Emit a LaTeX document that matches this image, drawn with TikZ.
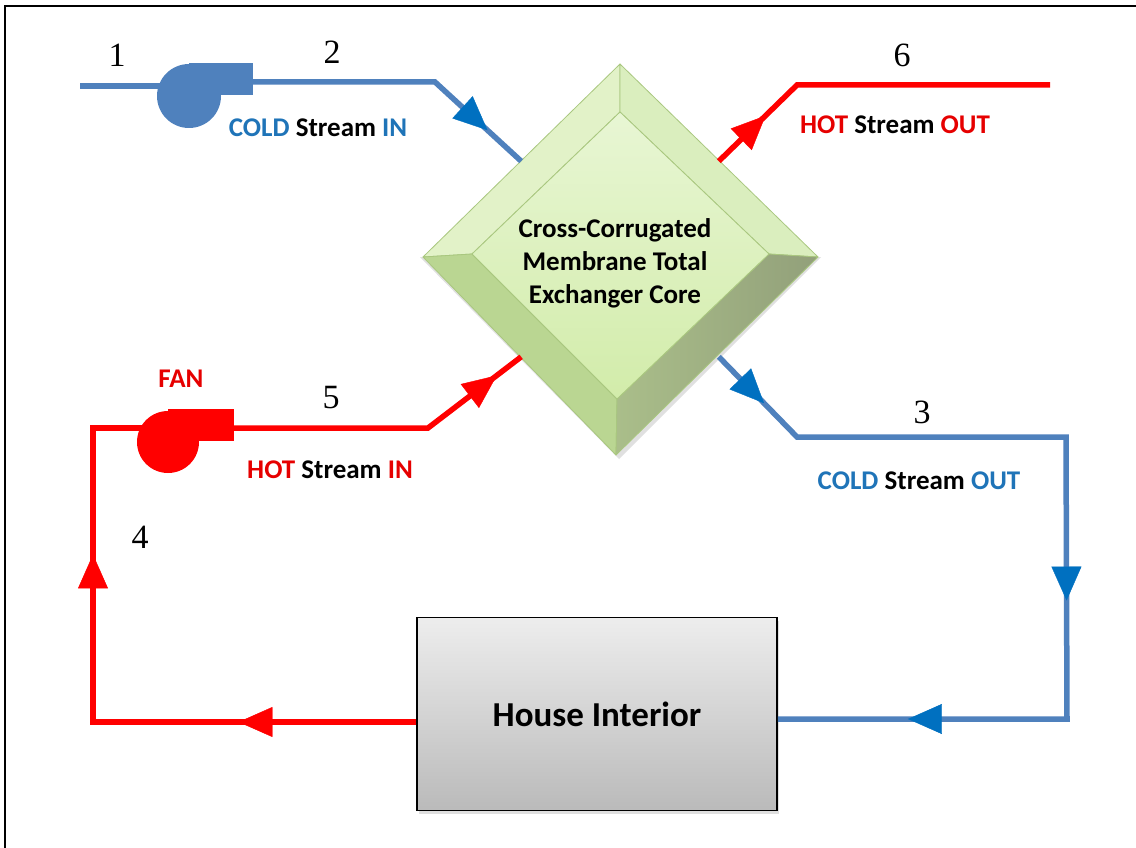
\documentclass[tikz,border=0pt]{standalone}
\usepackage{fontspec}
\newfontfamily\calib{Carlito}
\newfontfamily\numfont{Liberation Serif}
\usetikzlibrary{arrows.meta,decorations.markings,shapes.geometric,shadows}

\definecolor{coldline}{HTML}{4F81BD}
\definecolor{coldhead}{HTML}{0070C0}
\definecolor{coldtext}{HTML}{1F74B8}
\definecolor{hotline}{HTML}{FF0000}
\definecolor{hottext}{HTML}{E60000}
\definecolor{coreedge}{HTML}{A9C77F}

\tikzset{
  pipe/.style={line width=5.5pt, line join=miter},
  cold/.style={pipe, draw=coldline},
  hot/.style={pipe, draw=hotline},
  tipmark/.style 2 args={decorate, decoration={markings,
      mark=at position #1 with {\arrow{Triangle[length=34pt,width=30pt,color=#2]}}}},
  label/.style={font=\calib\bfseries\fontsize{27pt}{31pt}\selectfont, inner sep=0pt},
  num/.style={font=\numfont\fontsize{34pt}{38pt}\selectfont, inner sep=0pt},
  face/.style={draw=coreedge, line width=0.8pt, line join=round},
}

\begin{document}
\begin{tikzpicture}[x=1pt,y=-1pt]
\useasboundingbox (0,0) rectangle (1136,848);
\fill[white] (0,0) rectangle (1136,848);
% frame edges
\draw[line width=2.5pt] (5,848) -- (5,6) -- (1136,6);

% exchanger core: bevelled square block
\coordinate (oT) at (620,64);  \coordinate (oR) at (818,257);
\coordinate (oB) at (616,455); \coordinate (oL) at (423,257);
\coordinate (iT) at (620,112); \coordinate (iR) at (769,254);
\coordinate (iB) at (617,399); \coordinate (iL) at (472,254);
\fill[black!12] ([xshift=3pt,yshift=-4pt]oB) -- ([xshift=3pt]oR) -- ([xshift=-3pt]oL) -- cycle;
\path[face, fill={rgb,255:red,226;green,242;blue,200}] (oT) -- (iT) -- (iL) -- (oL) -- cycle;
\path[face, fill={rgb,255:red,218;green,238;blue,190}] (oT) -- (oR) -- (iR) -- (iT) -- cycle;
\path[face, fill={rgb,255:red,186;green,214;blue,146}] (oL) -- (iL) -- (iB) -- (oB) -- cycle;
\path[face, left color={rgb,255:red,170;green,190;blue,138}, right color={rgb,255:red,146;green,160;blue,122}] (oB) -- (iB) -- (iR) -- (oR) -- cycle;
\path[face, top color={rgb,255:red,232;green,246;blue,212}, bottom color={rgb,255:red,210;green,236;blue,170}] (iT) -- (iR) -- (iB) -- (iL) -- cycle;
\node[diamond, minimum width=395pt, minimum height=391pt, inner sep=0pt]
  (core) at (620,259) {};
\node[align=center, inner sep=0pt, font=\calib\bfseries\fontsize{27pt}{33pt}\selectfont]
  (coretext) at (615,263) {Cross-Corrugated\\Membrane Total\\Exchanger Core};

% house interior
\node[draw=black, line width=1.5pt, minimum width=360pt, minimum height=193pt,
      top color=black!7, bottom color=black!27,
      drop shadow={shadow xshift=2pt, shadow yshift=-3pt, opacity=0.25},
      font=\calib\bfseries\fontsize{35pt}{40pt}\selectfont]
  (house) at (597,714) {House Interior};

% corner points of the ducts
\coordinate (inA)  at (80,86);
\coordinate (fanA) at (189,86);
\coordinate (outA) at (250,82);
\coordinate (c2)   at (435,82);
\coordinate (c6)   at (797,85);
\coordinate (end6) at (1050,85);
\coordinate (c3)   at (797,437);
\coordinate (c3r)  at (1066,437);
\coordinate (c3b)  at (1067,719);
\coordinate (c4b)  at (93,722);
\coordinate (c4t)  at (93,428);
\coordinate (fanB) at (168,428);
\coordinate (outB) at (232,428);
\coordinate (c5)   at (428,428);

% cold stream
\draw[cold] (inA) -- (fanA);
\draw[cold] (outA) -- (c2) -- (core.north west);
\draw[cold] (core.south east) -- (c3) -- (c3r) -- (c3b) -- (house.east |- c3b);
% hot stream
\draw[hot] (house.west |- c4b) -- (c4b) -- (c4t) -- (fanB);
\draw[hot] (outB) -- (c5) -- (core.south west);
\draw[hot] (core.north east) -- (c6) -- (end6);

% flow direction heads
\path[tipmark={0.61}{coldhead}] (c2) -- (core.north west);
\path[tipmark={0.58}{coldhead}] (core.south east) -- (c3);
\path[tipmark={0.58}{coldhead}] (c3r) -- (c3b);
\path[tipmark={0.55}{coldhead}] (c3b) -- (house.east |- c3b);
\path[tipmark={0.60}{hotline}] (core.north east) -- (c6);
\path[tipmark={0.74}{hotline}] (c5) -- (core.south west);
\path[tipmark={0.55}{hotline}] (house.west |- c4b) -- (c4b);
\path[tipmark={0.57}{hotline}] (c4b) -- (c4t);

% fans: round casing with a square outlet
\fill[coldline] (189,96) circle[radius=32];
\fill[coldline] (189,63) rectangle (253,95);
\fill[hotline] (168,442) circle[radius=31];
\fill[hotline] (168,409) rectangle (234,441);

% stream labels
\node[label] (lblcin) at (318,128) {\textcolor{coldtext}{COLD} Stream \textcolor{coldtext}{IN}};
\node[label] (lblhout) at (895,125) {\textcolor{hottext}{HOT} Stream \textcolor{hottext}{OUT}};
\node[label] (lblhin) at (330,470) {\textcolor{hottext}{HOT} Stream \textcolor{hottext}{IN}};
\node[label] (lblcout) at (919,481) {\textcolor{coldtext}{COLD} Stream \textcolor{coldtext}{OUT}};
\node[label, text=hottext] (lblfan) at (181,379) {FAN};

% state numbers
\node[num] (n1) at (117,55) {1};
\node[num] (n2) at (332,52) {2};
\node[num] (n6) at (902,55) {6};
\node[num] (n5) at (331,398) {5};
\node[num] (n3) at (922,412) {3};
\node[num] (n4) at (140,537) {4};
\end{tikzpicture}
\end{document}
